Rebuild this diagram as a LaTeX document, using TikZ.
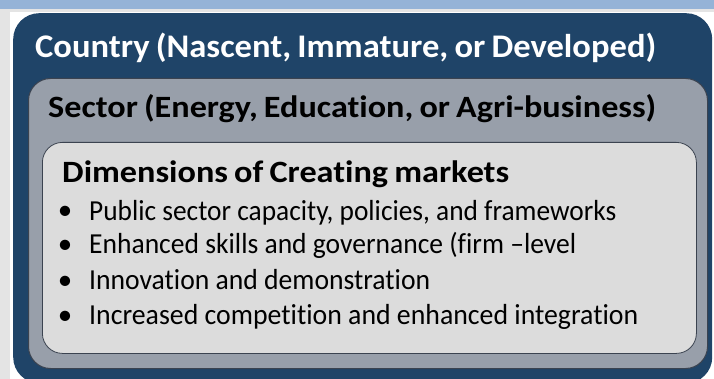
\documentclass[tikz,border=0pt]{standalone}
\usepackage{fontspec}
\setmainfont{Carlito}[Ligatures={TeX,NoCommon}]
\usepackage[svgnames]{xcolor}
\usepackage{graphicx}
\usepackage{tikz}
\usetikzlibrary{calc,positioning}
\definecolor{pagegray}{HTML}{E4E4E4}
\definecolor{bannerblue}{HTML}{95B3D7}
\definecolor{navy}{HTML}{1F4468}
\definecolor{sectorgray}{HTML}{989FAA}
\definecolor{dimsgray}{HTML}{DCDCDC}
\definecolor{edgegray}{HTML}{3B4350}
\newcommand{\fitw}[2]{\resizebox{#1}{\height}{#2}}
\newcommand{\tightspace}{\spaceskip=0.18em plus 0.02em\relax}
\tikzstyle{countrybox}=[rectangle,fill=navy,rounded corners=26pt,anchor=north west]
\tikzstyle{sectorbox}=[rectangle,fill=sectorgray,draw=edgegray,line width=1pt,rounded corners=22pt,anchor=north west]
\tikzstyle{dimsbox}=[rectangle,fill=dimsgray,draw=edgegray,line width=0.8pt,rounded corners=20pt,anchor=north west]
\tikzstyle{headtext}=[inner sep=0pt,anchor=base west]
\tikzstyle{itemtext}=[inner sep=0pt,anchor=base west,font=\fontsize{29}{30}\selectfont,text=black]

\begin{document}
\begin{tikzpicture}[x=1pt,y=-1pt]
  \useasboundingbox (0,0) rectangle (714,379);
  \fill[pagegray] (0,0) rectangle (714,379);
  \fill[bannerblue] (0,0) rectangle (714,9);
  \fill[white] (10,12) rectangle (714,379);
  \node[countrybox, minimum width=699pt, minimum height=370pt] (country) at (13,13) {};
  \node[sectorbox, minimum width=679pt, minimum height=290pt] (sector) at (28,78) {};
  \node[dimsbox, minimum width=654pt, minimum height=211pt] (dims) at (42,142) {};
  \node[headtext, text=white, font=\fontsize{33}{36}\selectfont\bfseries\tightspace]
    (countrytitle) at ($(country.north west)+(22,45)$)
    {\fitw{621pt}{Country (Nascent, Immature, or Developed)}};
  \node[headtext, text=black, font=\fontsize{31}{34}\selectfont\bfseries\tightspace]
    (sectortitle) at ($(sector.north west)+(20,40)$)
    {\fitw{608pt}{Sector (Energy, Education, or Agri-business)}};
  \node[headtext, text=black, font=\fontsize{31}{34}\selectfont\bfseries\tightspace]
    (dimstitle) at ($(dims.north west)+(20,41)$)
    {\fitw{447pt}{Dimensions of Creating markets}};
  % the four dimensions
  \node[itemtext] (item1) at ($(dims.north west)+(47,78)$)
    {\fitw{527pt}{Public sector capacity, policies, and frameworks}};
  \node[itemtext] (item2) at ($(item1.base west)+(0,34)$)
    {\fitw{487pt}{Enhanced skills and governance (firm –level}};
  \node[itemtext] (item3) at ($(item2.base west)+(0,35)$)
    {\fitw{341pt}{Innovation and demonstration}};
  \node[itemtext] (item4) at ($(item3.base west)+(0,35)$)
    {\fitw{549pt}{Increased competition and enhanced integration}};
  \foreach \i in {1,2,3,4}
    \node[itemtext, anchor=base] (dot\i) at ($(item\i.base west)+(-24,0)$) {\textbullet};
\end{tikzpicture}
\end{document}
